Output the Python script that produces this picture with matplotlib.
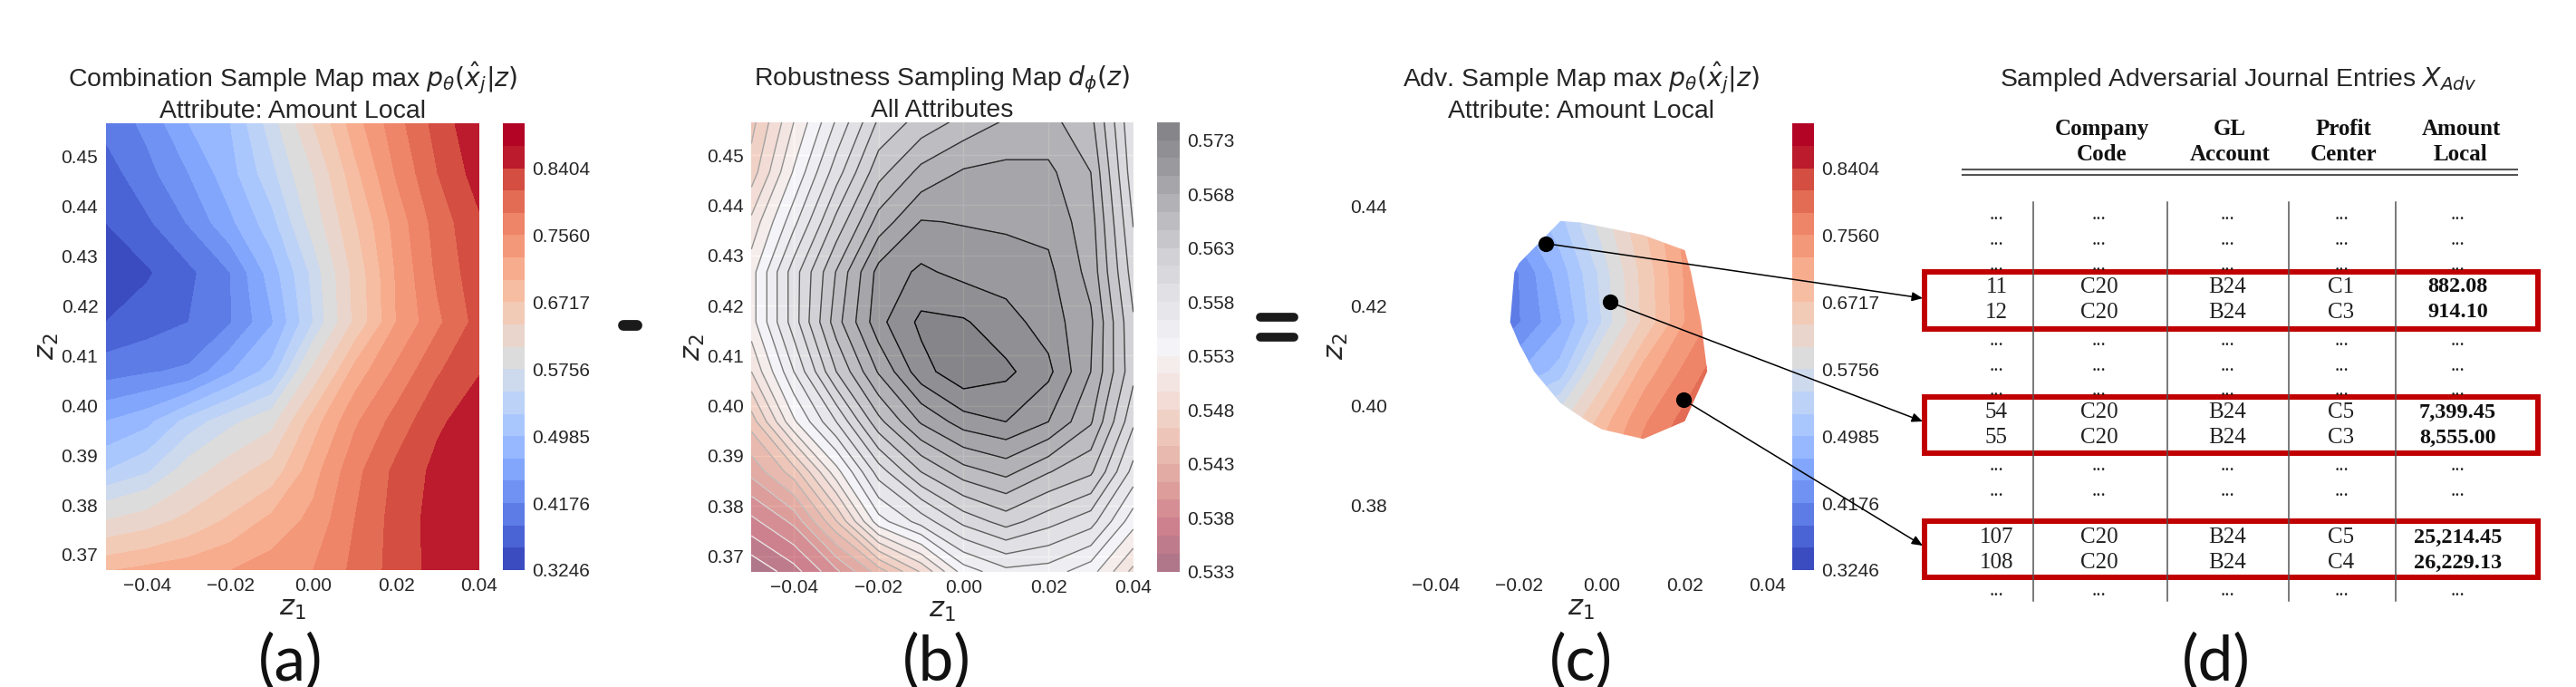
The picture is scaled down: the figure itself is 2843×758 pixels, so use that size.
import numpy as np
import matplotlib
matplotlib.use('Agg')
import matplotlib.pyplot as plt
from matplotlib.patches import Rectangle

W, H = 2843, 758

plt.rcParams['font.family'] = ['Liberation Sans', 'DejaVu Sans']
plt.rcParams['text.color'] = '#262626'
plt.rcParams['axes.labelcolor'] = '#262626'
plt.rcParams['xtick.color'] = '#262626'
plt.rcParams['ytick.color'] = '#262626'

# grid of the latent space
z1_grid = [-0.05, -0.04, -0.03, -0.02, -0.01, 0.00, 0.01, 0.02, 0.03, 0.04]
z2_grid = [0.4566, 0.4466, 0.4367, 0.4267, 0.4167, 0.4068, 0.3968, 0.3868, 0.3769, 0.3669]

# max p(x|z), amount local, top row first
amount_map = [
    [.3959, .4257, .4715, .4985, .5628, .6397, .7153, .7729, .8235, .8643],
    [.3711, .4083, .4446, .4885, .5422, .6076, .6914, .7588, .8123, .8537],
    [.3556, .3813, .4203, .4656, .5149, .5884, .6685, .7391, .7968, .8362],
    [.3246, .3516, .3789, .4176, .4850, .5576, .6502, .7307, .7898, .8305],
    [.3556, .3711, .3866, .4154, .4688, .5499, .6461, .7279, .7785, .8235],
    [.4052, .4145, .4230, .4694, .5096, .6163, .7110, .7625, .8094, .8390],
    [.4715, .4904, .5345, .5674, .5964, .6858, .7509, .7951, .8359, .8550],
    [.5242, .5460, .5916, .6256, .6541, .7167, .7751, .8193, .8484, .8604],
    [.6076, .6236, .6493, .6773, .7074, .7363, .7841, .8235, .8524, .8630],
    [.6970, .7082, .7167, .7273, .7419, .7560, .7909, .8232, .8510, .8590],
]
# d(z), top row first
robust_map = [
    [.5457, .5513, .5565, .5616, .5637, .5652, .5665, .5668, .5652, .5582],
    [.5471, .5532, .5589, .5641, .5668, .5682, .5685, .5684, .5663, .5587],
    [.5501, .5558, .5618, .5670, .5698, .5696, .5694, .5692, .5670, .5596],
    [.5523, .5589, .5648, .5703, .5716, .5708, .5706, .5701, .5674, .5605],
    [.5523, .5589, .5656, .5708, .5734, .5732, .5719, .5706, .5683, .5615],
    [.5497, .5563, .5630, .5682, .5723, .5743, .5734, .5717, .5680, .5618],
    [.5454, .5527, .5580, .5642, .5682, .5705, .5713, .5697, .5665, .5600],
    [.5418, .5455, .5523, .5588, .5630, .5656, .5668, .5648, .5633, .5574],
    [.5375, .5401, .5462, .5540, .5570, .5602, .5620, .5603, .5587, .5537],
    [.5333, .5356, .5393, .5438, .5482, .5538, .5558, .5555, .5537, .5492],
]
levels_amount = [.3246, .3556, .3866, .4176, .4446, .4716, .4985, .5242, .5499, .5756, .6076,
                 .6397, .6717, .6998, .7279, .7560, .7841, .8123, .8404, .8670, .8936]
levels_robust = [.5330, .5347, .5363, .5380, .5397, .5413, .5430, .5447, .5463, .5480, .5497,
                 .5513, .5530, .5547, .5563, .5580, .5597, .5613, .5630, .5647, .5663, .5680,
                 .5697, .5713, .5730, .5747]
robust_threshold = .5697

samples_z1 = [-0.0135, 0.0020, 0.0197]
samples_z2 = [0.4325, 0.4207, 0.4011]
arrow_tips = [(2122, 329), (2122, 465), (2122, 602)]

# table
header_top = ['Company', 'GL', 'Profit', 'Amount']
header_bottom = ['Code', 'Account', 'Center', 'Local']
header_x = [2320, 2461, 2587, 2716]
col_x = [2203.5, 2317, 2458, 2584, 2712.5]
vline_x = [2243.5, 2392, 2525.5, 2644]
dots_y = [242, 270, 298, 381, 409, 436, 519, 547, 657]
table_rows = [
    ('11', 'C20', 'B24', 'C1', '882.08', 317),
    ('12', 'C20', 'B24', 'C3', '914.10', 345),
    ('54', 'C20', 'B24', 'C5', '7,399.45', 455),
    ('55', 'C20', 'B24', 'C3', '8,555.00', 483),
    ('107', 'C20', 'B24', 'C5', '25,214.45', 593),
    ('108', 'C20', 'B24', 'C4', '26,229.13', 621),
]
boxes_y = [(300, 363), (437.5, 500), (574.5, 636.5)]

fig = plt.figure(figsize=(W / 100, H / 100), dpi=100, facecolor='white')


def px_axes(left, top, right, bottom):
    return fig.add_axes([left / W, 1 - bottom / H, (right - left) / W, (bottom - top) / H])


def style_axes(ax, yticks):
    ax.set_xlim(-0.05, 0.04)
    ax.set_ylim(0.3669, 0.4566)
    ax.set_xticks([-0.04, -0.02, 0.00, 0.02, 0.04])
    ax.set_yticks(yticks)
    ax.set_xticklabels(['\u22120.04', '\u22120.02', '0.00', '0.02', '0.04'])
    ax.set_yticklabels([f'{t:.2f}' for t in yticks])
    ax.tick_params(length=0, labelsize=15, pad=6)
    for s in ax.spines.values():
        s.set_visible(False)
    ax.set_xlabel('$z_1$', fontsize=22, labelpad=0)


def style_cbar(cb, ticks, fmt):
    cb.set_ticks(ticks)
    cb.set_ticklabels([fmt % t for t in ticks])
    cb.ax.tick_params(length=0, labelsize=15, pad=6)
    cb.outline.set_visible(False)


# grey sits in the tenth band of the bar, the last reds are close together
coolwarm_bands = plt.cm.coolwarm(np.r_[np.linspace(0, 0.5, 10),
                                       [0.55, 0.6, 0.65, 0.7, 0.75, 0.8, 0.85, 0.91, 0.98, 1]])
ticks_all = [0.37, 0.38, 0.39, 0.40, 0.41, 0.42, 0.43, 0.44, 0.45]
title_size = 20.4

# (a)
ax_a = px_axes(116.7, 136.3, 529, 629)
cf_a = ax_a.contourf(z1_grid, z2_grid, amount_map, levels=levels_amount, colors=coolwarm_bands)
style_axes(ax_a, ticks_all)
ax_a.set_ylabel('$z_2$', fontsize=22, labelpad=0)
ax_a.set_title('Combination Sample Map max $p_{\\theta}(\\hat{x}_j|z)$\nAttribute: Amount Local',
               fontsize=title_size, pad=3)
cax_a = px_axes(555, 136.3, 579, 629)
cb_a = fig.colorbar(cf_a, cax=cax_a)
style_cbar(cb_a, levels_amount[::3], '%.4f')

# (b)
ax_b = px_axes(829.3, 134.7, 1250.7, 630.7)
ax_b.set_facecolor('#EAEAF2')
ax_b.grid(True, color='white', lw=1)
ax_b.set_axisbelow(True)
cf_b = ax_b.contourf(z1_grid, z2_grid, robust_map, levels=levels_robust, cmap='RdGy', alpha=0.5)
ax_b.contour(z1_grid, z2_grid, robust_map, levels=levels_robust, cmap='gray_r', linewidths=1)
style_axes(ax_b, ticks_all)
ax_b.set_ylabel('$z_2$', fontsize=22, labelpad=0)
ax_b.set_title('Robustness Sampling Map $d_{\\phi}(z)$\nAll Attributes', fontsize=title_size, pad=3)
cax_b = px_axes(1277.3, 134.7, 1302, 630.7)
cax_b.set_facecolor('#EAEAF2')
cb_b = fig.colorbar(cf_b, cax=cax_b)
style_cbar(cb_b, levels_robust[::3], '%.3f')

# (c) same map, only where the robustness is above the threshold
ax_c = px_axes(1539, 136.3, 1951, 629)
cf_c = ax_c.contourf(z1_grid, z2_grid, amount_map, levels=levels_amount, colors=coolwarm_bands)
region = ax_c.contour(z1_grid, z2_grid, robust_map, levels=[robust_threshold], alpha=0)
cf_c.set_clip_path(region.get_paths()[0], ax_c.transData)
style_axes(ax_c, [0.38, 0.40, 0.42, 0.44])
ax_c.set_ylabel('$z_2$', fontsize=22, labelpad=0)
ax_c.set_title('Adv. Sample Map max $p_{\\theta}(\\hat{x}_j|z)$\nAttribute: Amount Local',
               fontsize=title_size, pad=3)
ax_c.scatter(samples_z1, samples_z2, s=130, color='black', zorder=5, clip_on=False)
cax_c = px_axes(1977.6, 136.3, 2002, 629)
cb_c = fig.colorbar(cf_c, cax=cax_c)
style_cbar(cb_c, levels_amount[::3], '%.4f')

# overlay in picture pixels: table, letters, operators, arrows
ov = fig.add_axes([0, 0, 1, 1], zorder=10)
ov.set_xlim(0, W)
ov.set_ylim(H, 0)
ov.axis('off')

for x, y, tip in zip(samples_z1, samples_z2, arrow_tips):
    ov.annotate('', xy=tip, xytext=(x, y), textcoords=ax_c.transData,
                arrowprops=dict(arrowstyle='-|>,head_length=0.7,head_width=0.3', color='black',
                                lw=1.1, shrinkA=0, shrinkB=0))

ov.text(2470, 87.6, 'Sampled Adversarial Journal Entries $X_{Adv}$', fontsize=title_size, ha='center', va='center')

serif = 'Liberation Serif'
for x, top, bottom in zip(header_x, header_top, header_bottom):
    ov.text(x, 142.4, top, family=serif, weight='bold', fontsize=18, ha='center', va='center', color='#111111')
    ov.text(x, 170.4, bottom, family=serif, weight='bold', fontsize=18, ha='center', va='center', color='#111111')
ov.plot([2166, 2778], [187, 187], color='#555555', lw=1.5)
ov.plot([2166, 2778], [193, 193], color='#555555', lw=1.5)
for x in vline_x:
    ov.plot([x, x], [222.5, 663], color='#555555', lw=1.1)
for y in dots_y:
    for x in col_x:
        ov.text(x, y, '...', family=serif, fontsize=15, ha='center', va='baseline', color='#222222')
for row in table_rows:
    for x, cell in zip(col_x[:4], row[:4]):
        ov.text(x, row[5], cell, family=serif, fontsize=18, ha='center', va='center', color='#222222')
    ov.text(col_x[4], row[5], row[4], family=serif, weight='bold', fontsize=17.5, ha='center', va='center',
            color='#111111')
for top, bottom in boxes_y:
    ov.add_patch(Rectangle((2124, top), 677, bottom - top, fill=False, edgecolor='#C00000', lw=4.3))

# panel letters
for x, letter in zip([321, 1033.5, 1745, 2446], ['(a)', '(b)', '(c)', '(d)']):
    ov.text(x, 730, letter, family='Lato', fontsize=50, ha='center', va='center', color='#111111')

# minus and equals
ov.plot([688, 703], [359, 359], color='#1a1a1a', lw=8.5, solid_capstyle='round')
ov.plot([1391, 1428], [350, 350], color='#1a1a1a', lw=7, solid_capstyle='round')
ov.plot([1391, 1428], [372, 372], color='#1a1a1a', lw=7, solid_capstyle='round')

fig.savefig('out.png', dpi=100)
